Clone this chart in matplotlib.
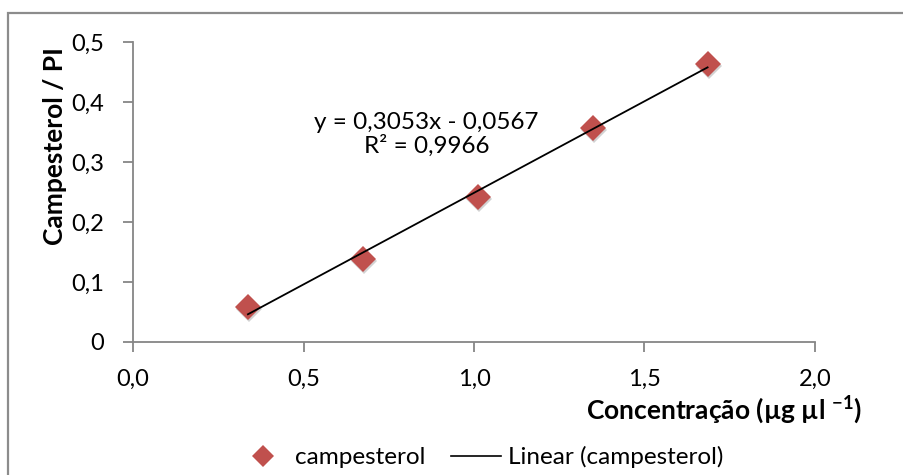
import matplotlib
matplotlib.use("Agg")
import matplotlib.pyplot as plt
from matplotlib.patches import Rectangle
from matplotlib.lines import Line2D
import matplotlib.transforms as mtransforms
import numpy as np

# Calibration data
concentration = [0.337, 0.674, 1.011, 1.348, 1.685]
ratio = [0.058, 0.138, 0.242, 0.357, 0.463]
slope = 0.3053
intercept = -0.0567
r_squared = 0.9966

x_ticks = [0.0, 0.5, 1.0, 1.5, 2.0]
x_tick_labels = ["0,0", "0,5", "1,0", "1,5", "2,0"]
y_ticks = [0.0, 0.1, 0.2, 0.3, 0.4, 0.5]
y_tick_labels = ["0", "0,1", "0,2", "0,3", "0,4", "0,5"]

plt.rcParams["font.family"] = ["Lato", "DejaVu Sans"]

W, H = 904, 475
fig = plt.figure(figsize=(W / 100, H / 100), dpi=100)

# Outer chart frame
fig.patches.append(Rectangle((8 / W, -0.1), 1.2, 1 - 13 / H + 0.1,
                             transform=fig.transFigure, fill=False,
                             edgecolor="#8c8c8c", linewidth=1.6))

ax = fig.add_axes([133 / W, 1 - 342 / H, (815 - 133) / W, (342 - 42) / H])
ax.set_xlim(0, 2.0)
ax.set_ylim(0, 0.5)

axis_gray = "#868686"
for side in ("top", "right"):
    ax.spines[side].set_visible(False)
for side in ("left", "bottom"):
    ax.spines[side].set_color(axis_gray)
    ax.spines[side].set_linewidth(1.3)
ax.tick_params(axis="both", direction="out", color=axis_gray, width=1.3,
               length=7, labelsize=17, labelcolor="black")
ax.tick_params(axis="y", pad=14)
ax.tick_params(axis="x", pad=12)
ax.set_xticks(x_ticks)
ax.set_xticklabels(x_tick_labels)
ax.set_yticks(y_ticks)
ax.set_yticklabels(y_tick_labels)

# Marker drop shadow
shadow = ax.transData + mtransforms.ScaledTranslation(1.5 / 100, -2 / 100, fig.dpi_scale_trans)
ax.plot(concentration, ratio, linestyle="none", marker="D", markersize=13,
        color="#7f7f7f", alpha=0.35, markeredgewidth=0, transform=shadow,
        zorder=2)
ax.plot(concentration, ratio, linestyle="none", marker="D", markersize=13,
        color="#C0504D", markeredgewidth=0, zorder=3, clip_on=False)

# Linear trendline over the data range
xfit = np.array([min(concentration), max(concentration)])
ax.plot(xfit, slope * xfit + intercept, color="black", linewidth=1.3, zorder=4)

eq = f"y = {slope:.4f}x - {abs(intercept):.4f}".replace(".", ",")
r2 = f"R² = {r_squared:.4f}".replace(".", ",")
ax.text(0.86, 0.346, eq + "\n" + r2, ha="center", va="center",
        fontsize=17.5, linespacing=1.1)

fig.text(55 / W, 1 - 146 / H, "Campesterol / PI", rotation=90, ha="center",
         va="center", fontsize=19, fontweight="bold")
fig.text(862 / W, 1 - 410 / H, "Concentração (µg µl $^{\\mathregular{-1}}$)",
         ha="right", va="center", fontsize=19, fontweight="bold")

handles = [Line2D([], [], linestyle="none", marker="D", markersize=11,
                  color="#C0504D", markeredgewidth=0),
           Line2D([], [], color="black", linewidth=1.2)]
fig.legend(handles, ["campesterol", "Linear (campesterol)"],
           loc="center", bbox_to_anchor=(481 / W, 1 - 457 / H), ncol=2,
           frameon=False, fontsize=17.5, handlelength=2.05, columnspacing=1.05,
           handletextpad=0.3)

fig.savefig("out.png", dpi=100)
